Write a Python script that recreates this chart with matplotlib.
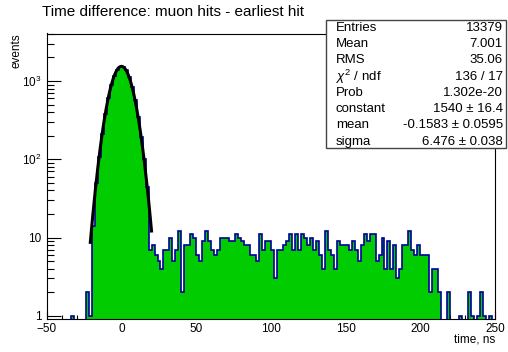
import numpy as np
import matplotlib.pyplot as plt
from matplotlib.patches import Rectangle
from matplotlib.ticker import FixedLocator, FixedFormatter, NullFormatter

plt.rcParams['font.family'] = ['Liberation Sans', 'DejaVu Sans']
plt.rcParams['mathtext.fontset'] = 'custom'
plt.rcParams['mathtext.rm'] = 'Liberation Sans'
plt.rcParams['mathtext.it'] = 'Liberation Sans:italic'

# time difference histogram, 2 ns bins from -50 ns to 250 ns
bin_start = -50.0
bin_width = 2.0
counts = [
    # -50 .. -22
    0, 0, 0, 0, 0, 0, 0, 0, 1, 0, 0, 0, 0, 2, 1,
    # -20 .. 16 (prompt peak)
    14, 50, 108, 212, 380, 600, 880, 1170, 1400, 1530,
    1510, 1370, 1120, 840, 570, 350, 195, 100, 44,
    # 18 .. 56
    7, 8, 6, 5, 4, 7, 7, 10, 5, 7, 12, 2, 8, 8, 11, 10, 6, 5, 9, 12,
    # 58 .. 96
    9, 7, 6, 7, 10, 10, 10, 9, 9, 11, 10, 9, 8, 8, 6, 6, 5, 11, 7, 9,
    # 98 .. 136
    9, 7, 3, 7, 7, 8, 9, 11, 7, 11, 7, 11, 10, 8, 10, 7, 9, 6, 4, 12,
    # 138 .. 176
    7, 6, 4, 9, 8, 8, 8, 7, 9, 7, 5, 8, 11, 9, 11, 11, 5, 6, 10, 4,
    # 178 .. 216
    9, 4, 8, 3, 4, 8, 8, 12, 7, 6, 8, 6, 6, 6, 2, 4, 4, 2, 0, 0,
    # 218 .. 248
    2, 0, 0, 0, 1, 0, 0, 2, 1, 0, 1, 2, 1, 0, 1, 0,
]

# gaussian fit result
fit_const = 1540.0
fit_mean = -0.1583
fit_sigma = 6.476
fit_lo, fit_hi = -21.0, 20.0

stat_names = ["Entries", "Mean", "RMS", r"$\chi^{2}$ / ndf", "Prob",
              "constant", "mean", "sigma"]
stat_values = ["13379", "7.001", "35.06", "136 / 17", "1.302e-20",
               "1540 \u00b1 16.4", "-0.1583 \u00b1 0.0595", "6.476 \u00b1 0.038"]

W, H = 508, 352
ymin, ymax = 0.91, 4050.0

fig = plt.figure(figsize=(W / 100, H / 100), dpi=100)
ax = fig.add_axes([47 / W, 1 - 319 / H, (495 - 47) / W, (319 - 33.5) / H])

vals = np.array(counts, dtype=float)
edges = bin_start + bin_width * np.arange(len(vals) + 1)
# empty bins are drawn down to the frame bottom
vals_draw = np.where(vals > 0, vals, ymin * 0.5)

ax.stairs(vals_draw, edges, baseline=ymin * 0.5, fill=True,
          color='#00cc00', zorder=2)
ax.stairs(vals_draw, edges, baseline=ymin * 0.5, color='#000099',
          lw=1.2, zorder=3)

tt = np.linspace(fit_lo, fit_hi, 400)
ax.plot(tt, fit_const * np.exp(-0.5 * ((tt - fit_mean) / fit_sigma) ** 2),
        color='black', lw=2.2, zorder=4)

ax.set_yscale('log')
ax.set_xlim(-50, 250)
ax.set_ylim(ymin, ymax)

ax.xaxis.set_major_locator(FixedLocator([-50, 0, 50, 100, 150, 200, 250]))
ax.xaxis.set_minor_locator(FixedLocator(np.arange(-50, 251, 10)))
ax.yaxis.set_major_locator(FixedLocator([1, 10, 100, 1000]))
ax.yaxis.set_major_formatter(FixedFormatter(['1', '10', r'$10^{2}$', r'$10^{3}$']))
minors = [m * 10 ** d for d in range(0, 4) for m in range(2, 10)]
ax.yaxis.set_minor_locator(FixedLocator(minors))
ax.yaxis.set_minor_formatter(NullFormatter())

ax.tick_params(axis='both', which='both', direction='in', top=False,
               right=False, labelsize=8.5, width=0.8)
ax.tick_params(axis='x', which='major', length=6, pad=3)
ax.tick_params(axis='x', which='minor', length=3)
ax.tick_params(axis='y', which='major', length=10, pad=4)
ax.tick_params(axis='y', which='minor', length=5)
for s in ax.spines.values():
    s.set_linewidth(0.8)

fig.text(173 / W, 1 - 11.5 / H, "Time difference: muon hits - earliest hit",
         ha='center', va='center', fontsize=11)
fig.text(16 / W, 1 - 33.5 / H, "events", rotation=90, ha='center',
         va='top', fontsize=8.5)
fig.text(495 / W, 1 - 339 / H, "time, ns", ha='right', va='center',
         fontsize=8.5)

# statistics box
fig.patches.append(Rectangle((326 / W, 1 - 148 / H), (506 - 326) / W,
                             (148 - 20) / H, transform=fig.transFigure,
                             facecolor='white', edgecolor='#444444',
                             lw=1.0, zorder=5))
for i, (name, value) in enumerate(zip(stat_names, stat_values)):
    y = 1 - (27.7 + 16.3 * i) / H
    fig.text(336 / W, y, name, ha='left', va='center', fontsize=9.5, zorder=6)
    fig.text(503 / W, y, value, ha='right', va='center', fontsize=9.5, zorder=6)

fig.savefig('out.png', dpi=100)
